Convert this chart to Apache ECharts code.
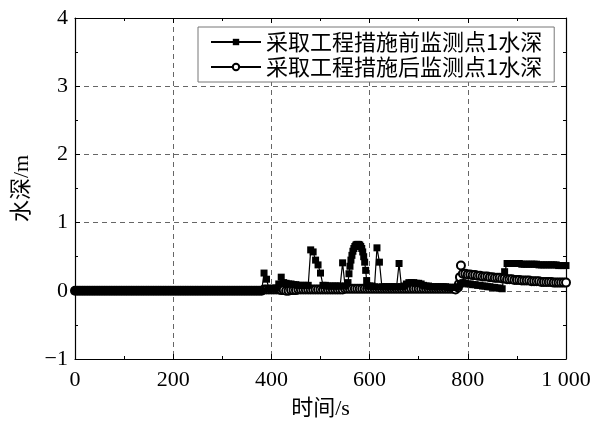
<!DOCTYPE html>
<html>
<head>
<meta charset="utf-8">
<script src="https://cdn.jsdelivr.net/npm/echarts@6/dist/echarts.min.js"></script>
<style>html,body{margin:0;padding:0;background:#fff;}#c{width:594px;height:423px;}</style>
</head>
<body>
<div id="c"></div>
<script>
var seriesNames = ['采取工程措施前监测点1水深', '采取工程措施后监测点1水深'];
var xTicks = [0, 200, 400, 600, 800, 1000];
var yTicks = [-1, 0, 1, 2, 3, 4];

var tA = [0,5,10,15,20,25,30,35,40,45,50,55,60,65,70,75,80,85,90,95,
100,105,110,115,120,125,130,135,140,145,150,155,160,165,170,175,180,185,190,195,
200,205,210,215,220,225,230,235,240,245,250,255,260,265,270,275,280,285,290,295,
300,305,310,315,320,325,330,335,340,345,350,355,360,365,370,375,380,
385,390,395,400,405,410,415,420,425,430,
435,440,445,450,455,460,465,470,475,480,
485,490,495,500,505,510,515,520,525,530,
535,540,545,550,
556,558,560,562,564,566,568,570,572,574,576,578,580,582,584,586,588,590,592,594,596,
600,605,610,615,620,625,630,
635,640,645,650,655,660,665,670,675,680,
685,690,695,700,705,710,715,720,725,730,
735,740,745,750,755,760,765,770,775,780,
785,790,795,800,805,810,815,820,825,830,
835,840,845,850,855,860,865,870,
875,880,
885,890,895,900,905,910,915,920,925,930,935,940,945,950,955,960,965,970,975,980,985,990,995,1000];
var vA = [0,0,0,0,0,0,0,0,0,0,0,0,0,0,0,0,0,0,0,0,
0,0,0,0,0,0,0,0,0,0,0,0,0,0,0,0,0,0,0,0,
0,0,0,0,0,0,0,0,0,0,0,0,0,0,0,0,0,0,0,0,
0,0,0,0,0,0,0,0,0,0,0,0,0,0,0,0,0,
0.26,0.17,0.03,0.03,0.03,0.04,0.1,0.2,0.12,0.11,
0.1,0.1,0.09,0.09,0.08,0.08,0.08,0.08,0.08,0.6,
0.57,0.45,0.38,0.26,0.08,0.08,0.07,0.07,0.07,0.07,
0.07,0.07,0.41,0.07,
0.12,0.25,0.36,0.45,0.52,0.58,0.62,0.65,0.67,0.68,0.68,0.68,0.67,0.65,0.62,0.57,0.5,0.42,0.3,0.15,0.07,
0.07,0.07,0.06,0.63,0.42,0.06,0.06,
0.06,0.06,0.06,0.06,0.06,0.4,0.06,0.07,0.1,0.12,
0.12,0.12,0.11,0.11,0.1,0.08,0.07,0.07,0.06,0.06,
0.06,0.06,0.06,0.06,0.06,0.05,0.05,0.05,0.05,0.06,
0.1,0.12,0.11,0.1,0.1,0.09,0.09,0.08,0.08,0.07,
0.07,0.06,0.06,0.05,0.05,0.04,0.04,0.03,
0.28,0.4,
0.4,0.4,0.4,0.4,0.4,0.39,0.39,0.39,0.39,0.39,0.39,0.39,0.38,0.38,0.38,0.38,0.38,0.38,0.38,0.38,0.37,0.37,0.37,0.37];

var tB = [0,5,10,15,20,25,30,35,40,45,50,55,60,65,70,75,80,85,90,95,
100,105,110,115,120,125,130,135,140,145,150,155,160,165,170,175,180,185,190,195,
200,205,210,215,220,225,230,235,240,245,250,255,260,265,270,275,280,285,290,295,
300,305,310,315,320,325,330,335,340,345,350,355,360,365,370,375,380,
385,390,395,400,405,410,415,420,425,430,
435,440,445,450,455,460,465,470,475,480,
485,490,495,500,505,510,515,520,525,530,
535,540,545,550,555,560,565,570,575,580,
585,590,595,600,605,610,615,620,625,630,
635,640,645,650,655,660,665,670,675,680,
685,690,695,700,705,710,715,720,725,730,
735,740,745,750,755,760,765,770,775,780,
782,784,786,
790,795,800,805,810,815,820,825,830,835,
840,845,850,855,860,865,870,875,880,885,
890,895,900,905,910,915,920,925,930,935,
940,945,950,955,960,965,970,975,980,985,
990,995,1000];
var vB = [0,0,0,0,0,0,0,0,0,0,0,0,0,0,0,0,0,0,0,0,
0,0,0,0,0,0,0,0,0,0,0,0,0,0,0,0,0,0,0,0,
0,0,0,0,0,0,0,0,0,0,0,0,0,0,0,0,0,0,0,0,
0,0,0,0,0,0,0,0,0,0,0,0,0,0,0,0,0,
0.02,0.02,0.02,0.02,0.02,0.02,0.02,0.01,0.01,0.0,
0.0,0.01,0.01,0.01,0.02,0.02,0.02,0.02,0.02,0.02,
0.02,0.02,0.02,0.02,0.02,0.02,0.02,0.02,0.02,0.02,
0.02,0.02,0.02,0.03,0.03,0.03,0.03,0.03,0.03,0.03,
0.03,0.03,0.03,0.03,0.03,0.03,0.03,0.03,0.03,0.03,
0.03,0.03,0.03,0.03,0.03,0.03,0.03,0.03,0.03,0.03,
0.03,0.03,0.03,0.03,0.03,0.03,0.03,0.03,0.03,0.03,
0.03,0.03,0.03,0.03,0.03,0.03,0.03,0.03,0.02,0.05,
0.1,0.2,0.37,
0.25,0.25,0.24,0.24,0.23,0.23,0.22,0.22,0.21,0.21,
0.21,0.2,0.2,0.19,0.19,0.19,0.18,0.18,0.17,0.17,
0.17,0.16,0.16,0.16,0.15,0.15,0.15,0.15,0.14,0.14,
0.14,0.14,0.13,0.13,0.13,0.13,0.13,0.12,0.12,0.12,
0.12,0.12,0.12];

function pairs(t, v) { return t.map(function (x, i) { return [x, v[i]]; }); }

var serifFont = '"Liberation Serif", "Times New Roman", "Noto Sans CJK SC", serif';
var cjkFont = '"Noto Sans CJK SC", sans-serif';

function xLabel(v) { return v === 1000 ? '1 000' : String(v); }
function yLabel(v) { return v < 0 ? '\u2212' + (-v) : String(v); }

var xMin = xTicks[0], xMax = xTicks[xTicks.length - 1];
var yMin = yTicks[0], yMax = yTicks[yTicks.length - 1];

var chart = echarts.init(document.getElementById('c'), null, { renderer: 'canvas' });
var axisLineStyle = { color: '#000', width: 1.2 };
var tickStyle = { color: '#000', width: 1 };
chart.setOption({
  animation: false,
  backgroundColor: '#fff',
  grid: { left: 75, right: 28, top: 18, bottom: 64, containLabel: false, outerBoundsMode: 'none' },
  legend: {
    orient: 'vertical',
    left: 198,
    top: 27,
    backgroundColor: '#fff',
    borderColor: '#777',
    borderWidth: 1,
    padding: [4, 12, 4, 12],
    itemWidth: 50,
    itemHeight: 8,
    itemGap: 3,
    textStyle: { fontFamily: cjkFont, fontSize: 22, color: '#000' },
    data: seriesNames
  },
  xAxis: [{
    type: 'value', min: xMin, max: xMax, interval: 200,
    position: 'bottom',
    name: '时间/s', nameLocation: 'middle', nameGap: 39,
    nameTextStyle: { fontFamily: serifFont, fontSize: 22, color: '#000' },
    axisLine: { show: true, onZero: false, lineStyle: axisLineStyle },
    axisTick: { show: true, inside: true, length: 5, lineStyle: tickStyle },
    minorTick: { show: true, splitNumber: 2, length: 3, lineStyle: tickStyle },
    axisLabel: { formatter: xLabel, fontFamily: serifFont, fontSize: 22, color: '#000', margin: 10 },
    splitLine: { show: true, lineStyle: { color: '#666', type: [5, 4], width: 1 } }
  }, {
    type: 'value', min: xMin, max: xMax, interval: 200,
    position: 'top',
    axisLine: { show: true, onZero: false, lineStyle: axisLineStyle },
    axisTick: { show: true, inside: true, length: 5, lineStyle: tickStyle },
    minorTick: { show: true, splitNumber: 2, length: 3, lineStyle: tickStyle },
    axisLabel: { show: false },
    splitLine: { show: false }
  }],
  yAxis: [{
    type: 'value', min: yMin, max: yMax, interval: 1,
    position: 'left',
    name: '水深/m', nameLocation: 'middle', nameGap: 38, nameRotate: 90,
    nameTextStyle: { fontFamily: serifFont, fontSize: 22, color: '#000' },
    axisLine: { show: true, onZero: false, lineStyle: axisLineStyle },
    axisTick: { show: true, inside: true, length: 5, lineStyle: tickStyle },
    minorTick: { show: true, splitNumber: 2, length: 3, lineStyle: tickStyle },
    axisLabel: { formatter: yLabel, fontFamily: serifFont, fontSize: 22, color: '#000', margin: 7 },
    splitLine: { show: true, lineStyle: { color: '#666', type: [5, 4], width: 1 } }
  }, {
    type: 'value', min: yMin, max: yMax, interval: 1,
    position: 'right',
    axisLine: { show: true, onZero: false, lineStyle: axisLineStyle },
    axisTick: { show: true, inside: true, length: 5, lineStyle: tickStyle },
    minorTick: { show: true, splitNumber: 2, length: 3, lineStyle: tickStyle },
    axisLabel: { show: false },
    splitLine: { show: false }
  }],
  series: [{
    name: seriesNames[0],
    type: 'line',
    data: pairs(tA, vA),
    symbol: 'rect',
    symbolSize: 7,
    showSymbol: true,
    showAllSymbol: true,
    lineStyle: { color: '#000', width: 1.2 },
    itemStyle: { color: '#000', borderColor: '#000', borderWidth: 0 },
    z: 3
  }, {
    name: seriesNames[1],
    type: 'line',
    data: pairs(tB, vB),
    symbol: 'circle',
    symbolSize: 8,
    showSymbol: true,
    showAllSymbol: true,
    lineStyle: { color: '#000', width: 1.2 },
    itemStyle: { color: '#fff', borderColor: '#000', borderWidth: 2 },
    z: 2
  }]
});
</script>
</body>
</html>
